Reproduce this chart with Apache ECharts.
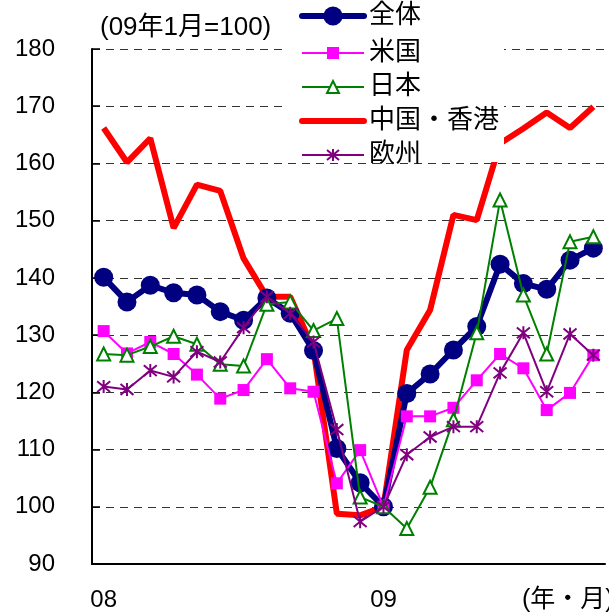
<!DOCTYPE html>
<html>
<head>
<meta charset="utf-8">
<script src="https://cdn.jsdelivr.net/npm/echarts@6/dist/echarts.min.js"></script>
<style>
  html, body { margin: 0; padding: 0; background: #fff; }
  #chart { width: 609px; height: 614px; }
</style>
</head>
<body>
<div id="chart"></div>
<script>
// 2008/01 - 2009/10
const months = ['08/01','08/02','08/03','08/04','08/05','08/06','08/07','08/08','08/09','08/10','08/11','08/12',
  '09/01','09/02','09/03','09/04','09/05','09/06','09/07','09/08','09/09','09/10']

const total = [140.1, 135.8, 138.7, 137.4, 137.0, 134.1, 132.6, 136.5, 133.8, 127.3, 110.2, 104.2,
  100, 119.8, 123.2, 127.4, 131.5, 142.4, 139.0, 138.0, 143.1, 145.2]
const usa = [130.7, 126.8, 128.8, 126.7, 123.1, 118.9, 120.4, 125.8, 120.7, 120.1, 104.1, 109.9,
  100, 115.8, 115.8, 117.3, 122.1, 126.7, 124.2, 116.9, 119.9, 126.5]
const japan = [126.7, 126.5, 128.0, 129.8, 128.4, 124.9, 124.6, 135.4, 135.8, 130.8, 132.9, 101.7,
  100, 96.2, 103.4, 115.2, 130.4, 153.6, 137.0, 126.7, 146.3, 147.2]
const chinaHk = [166.2, 160.2, 164.4, 148.7, 156.3, 155.2, 143.4, 136.7, 136.7, 127.5, 98.8, 98.5,
  100, 127.4, 134.4, 151.0, 150.1, 163.5, 166.1, 168.9, 166.2, 169.9]
const europe = [121.0, 120.5, 123.8, 122.7, 127.1, 125.3, 131.3, 136.7, 133.8, 128.8, 113.5, 97.4,
  100, 109.1, 112.2, 114.0, 114.0, 123.4, 130.4, 120.1, 130.2, 126.5]

const font = '"Liberation Sans", "Noto Sans CJK JP", sans-serif'
const asterisk = 'path://M0 0L10 10M0 10L10 0M5 -1L5 11'

const chart = echarts.init(document.getElementById('chart'))

const legendText = { fontFamily: font, fontSize: 26, color: '#000' }

chart.setOption({
  backgroundColor: '#fff',
  animation: false,
  textStyle: { fontFamily: font },
  title: {
    text: '(09年1月=100)',
    left: 95,
    top: 10,
    textStyle: { fontFamily: font, fontSize: 26, fontWeight: 'normal', color: '#000' }
  },
  graphic: [{
    type: 'text',
    left: 522,
    top: 588,
    style: { text: '(年・月)', fontFamily: font, fontSize: 25, fill: '#000' }
  }],
  legend: [
    {
      // 全体 (bigger marker)
      orient: 'vertical',
      left: 286,
      top: 3,
      padding: [0, 10, 0, 13],
      itemWidth: 62,
      itemHeight: 24,
      data: [{ name: '全体', lineStyle: { width: 6, cap: 'round' } }],
      textStyle: legendText
    },
    {
      orient: 'vertical',
      left: 286,
      top: 40,
      padding: [0, 5, -6, 13],
      backgroundColor: '#fff',
      itemWidth: 62,
      itemHeight: 15,
      itemGap: 8,
      data: [
        '米国',
        '日本',
        { name: '中国・香港', lineStyle: { width: 6, cap: 'round' }, itemStyle: { color: 'rgba(0,0,0,0)', borderWidth: 0 } },
        '欧州'
      ],
      textStyle: legendText
    }
  ],
  grid: { left: 92, right: 4, top: 49, bottom: 50 },
  xAxis: {
    type: 'category',
    data: months,
    boundaryGap: true,
    axisLine: { lineStyle: { color: '#000', width: 2 } },
    axisTick: { inside: true, length: 8, interval: 0, lineStyle: { color: '#000', width: 1.5 } },
    axisLabel: {
      interval: 0,
      margin: 24,
      color: '#000',
      fontSize: 24,
      fontFamily: font,
      formatter: v => v.endsWith('/01') ? v.slice(0, 2) : ''
    },
    splitLine: { show: false }
  },
  yAxis: {
    type: 'value',
    min: 90,
    max: 180,
    interval: 10,
    axisLine: { show: true, lineStyle: { color: '#000', width: 2 } },
    axisTick: { show: true, inside: true, length: 8, lineStyle: { color: '#000', width: 1.5 } },
    axisLabel: { margin: 37, color: '#000', fontSize: 24, fontFamily: font },
    splitLine: { lineStyle: { color: '#333', type: [8, 6], width: 1 } }
  },
  series: [
    {
      name: '中国・香港',
      type: 'line',
      data: chinaHk,
      z: 1,
      showSymbol: false,
      symbol: 'none',
      lineStyle: { color: '#ff0000', width: 6 },
      itemStyle: { color: '#ff0000' }
    },
    {
      name: '全体',
      type: 'line',
      data: total,
      z: 2,
      symbol: 'circle',
      symbolSize: 19,
      lineStyle: { color: '#000080', width: 6 },
      itemStyle: { color: '#000080' }
    },
    {
      name: '米国',
      type: 'line',
      data: usa,
      z: 3,
      symbol: 'rect',
      symbolSize: 12,
      lineStyle: { color: '#ff00ff', width: 2 },
      itemStyle: { color: '#ff00ff' }
    },
    {
      name: '日本',
      type: 'line',
      data: japan,
      z: 4,
      symbol: 'triangle',
      symbolSize: 13,
      lineStyle: { color: '#008000', width: 2 },
      itemStyle: { color: '#fff', borderColor: '#008000', borderWidth: 2 }
    },
    {
      name: '欧州',
      type: 'line',
      data: europe,
      z: 5,
      symbol: asterisk,
      symbolSize: 13,
      lineStyle: { color: '#800080', width: 2 },
      itemStyle: { color: 'none', borderColor: '#800080', borderWidth: 2 }
    }
  ]
})
</script>
</body>
</html>
